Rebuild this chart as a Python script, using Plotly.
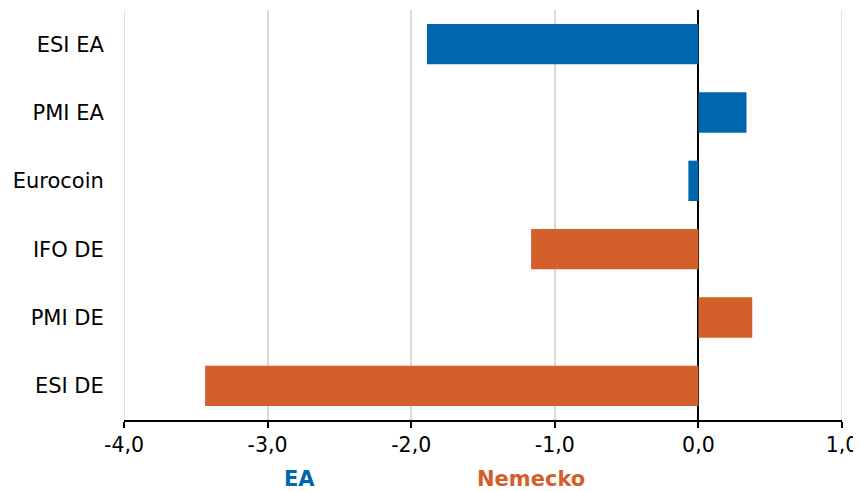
import plotly.graph_objects as go

categories = ["ESI EA", "PMI EA", "Eurocoin", "IFO DE", "PMI DE", "ESI DE"]
ea_cats = ["ESI EA", "PMI EA", "Eurocoin"]
ea_vals = [-1.89, 0.335, -0.07]
de_cats = ["IFO DE", "PMI DE", "ESI DE"]
de_vals = [-1.165, 0.375, -3.435]
x_ticks = [-4, -3, -2, -1, 0, 1]
x_tick_labels = ["-4,0", "-3,0", "-2,0", "-1,0", "0,0", "1,0"]

BLUE = "#0066AD"
ORANGE = "#D35F2A"
GRID = "#D9D9D9"
FONT = "Verdana, DejaVu Sans, sans-serif"

# The page body has an 8px default margin; size the figure so that the
# plot area lands where it is in the 861x491 reference.
OFF = 8
W, H = 861 - OFF, 491 - OFF
L, R, T, B = 124 - OFF, 19, 10 - OFF, 71

fig = go.Figure()
fig.add_trace(go.Bar(y=ea_cats, x=ea_vals, orientation="h", marker=dict(color=BLUE, line_width=0),
                     name="EA", showlegend=False))
fig.add_trace(go.Bar(y=de_cats, x=de_vals, orientation="h", marker=dict(color=ORANGE, line_width=0),
                     name="Nemecko", showlegend=False))

fig.update_layout(
    width=W, height=H,
    margin=dict(l=L, r=R, t=T, b=B, pad=0),
    plot_bgcolor="white", paper_bgcolor="white",
    bargap=0.41,
    barmode="overlay",
    font=dict(family=FONT, size=20, color="#000000"),
    xaxis=dict(range=[x_ticks[0], x_ticks[-1]], tickvals=x_ticks, ticktext=x_tick_labels,
               showgrid=True, gridcolor=GRID, gridwidth=1.5,
               zeroline=True, zerolinecolor="#000000", zerolinewidth=1.5,
               showline=True, linecolor="#000000", linewidth=1.5,
               ticks="outside", ticklen=6, tickcolor="#000000", tickwidth=1.5,
               tickfont=dict(size=20.5)),
    yaxis=dict(categoryorder="array", categoryarray=categories, autorange="reversed",
               showgrid=False, zeroline=False, showline=False,
               ticks="outside", ticklen=15, tickcolor="rgba(0,0,0,0)",
               tickfont=dict(size=21)),
)

# gridlines at the two ends of the x range
for v in (x_ticks[0], x_ticks[-1]):
    fig.add_shape(type="line", xref="x", yref="paper", x0=v, x1=v, y0=0, y1=1,
                  line=dict(color=GRID, width=1.5), layer="below")

pw = W - L - R
ph = H - T - B

def to_paper(px, py):
    # px, py are positions in the reference image
    return (px - OFF - L) / pw, 1 - (py - OFF - T) / ph

for txt, col, px, py in [("<b>EA</b>", BLUE, 299, 479.5), ("<b>Nemecko</b>", ORANGE, 531, 479.5)]:
    ax, ay = to_paper(px, py)
    fig.add_annotation(text=txt, x=ax, y=ay, xref="paper", yref="paper", showarrow=False,
                       xanchor="center", yanchor="middle", borderpad=0,
                       font=dict(color=col, size=21, family=FONT))

fig.write_html("out.html")
